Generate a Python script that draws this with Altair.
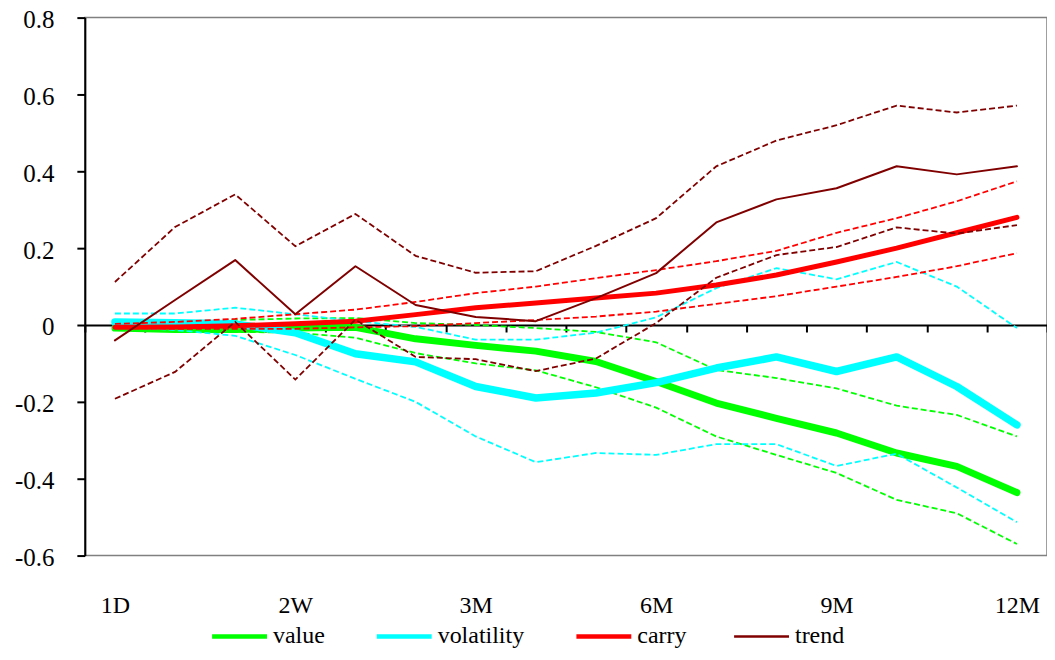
import altair as alt
import pandas as pd

categories = ["1D", "2D", "1W", "2W", "1M", "2M", "3M", "4M", "5M", "6M",
              "7M", "8M", "9M", "10M", "11M", "12M"]
tick_labels = ["1D", "2W", "3M", "6M", "9M", "12M"]
y_ticks = [-0.6, -0.4, -0.2, 0, 0.2, 0.4, 0.6, 0.8]

series_names = ["value", "volatility", "carry", "trend"]
series_colors = ["#00FF00", "#00FFFF", "#FF0000", "#800000"]

value_mean = [-0.008, -0.012, -0.012, -0.008, -0.006, -0.036, -0.053, -0.068, -0.095, -0.147,
              -0.203, -0.243, -0.281, -0.333, -0.368, -0.436]
value_upper = [0.0, 0.005, 0.013, 0.017, 0.018, 0.005, 0.0, -0.008, -0.018, -0.045,
               -0.117, -0.138, -0.165, -0.21, -0.234, -0.29]
value_lower = [-0.012, -0.015, -0.018, -0.02, -0.033, -0.073, -0.1, -0.118, -0.162, -0.215,
               -0.29, -0.338, -0.385, -0.455, -0.49, -0.57]

vol_mean = [0.008, 0.006, 0.003, -0.02, -0.075, -0.096, -0.16, -0.19, -0.177, -0.15,
            -0.112, -0.083, -0.121, -0.083, -0.16, -0.26]
vol_upper = [0.03, 0.03, 0.045, 0.028, 0.01, -0.005, -0.038, -0.038, -0.02, 0.02,
             0.096, 0.148, 0.119, 0.164, 0.1, -0.008]
vol_lower = [-0.005, -0.013, -0.028, -0.078, -0.14, -0.2, -0.29, -0.357, -0.333, -0.338,
             -0.31, -0.31, -0.367, -0.335, -0.423, -0.513]

carry_mean = [-0.006, -0.005, -0.002, 0.003, 0.01, 0.027, 0.045, 0.057, 0.07, 0.083,
              0.104, 0.13, 0.164, 0.2, 0.24, 0.28]
carry_upper = [0.003, 0.008, 0.016, 0.028, 0.04, 0.06, 0.083, 0.1, 0.122, 0.143,
               0.166, 0.193, 0.24, 0.278, 0.322, 0.374]
carry_lower = [-0.008, -0.01, -0.01, -0.01, -0.006, -0.003, 0.005, 0.013, 0.022, 0.035,
               0.055, 0.075, 0.1, 0.125, 0.153, 0.187]

trend_mean = [-0.04, 0.065, 0.169, 0.028, 0.153, 0.052, 0.021, 0.01, 0.07, 0.135,
              0.267, 0.327, 0.356, 0.413, 0.392, 0.413]
trend_upper = [0.112, 0.255, 0.34, 0.205, 0.289, 0.18, 0.136, 0.14, 0.206, 0.278,
               0.413, 0.48, 0.52, 0.571, 0.553, 0.571]
trend_lower = [-0.192, -0.122, 0.008, -0.142, 0.014, -0.083, -0.089, -0.12, -0.087, 0.005,
               0.123, 0.182, 0.203, 0.254, 0.238, 0.26]

series_data = {
    "value": (value_mean, value_upper, value_lower),
    "volatility": (vol_mean, vol_upper, vol_lower),
    "carry": (carry_mean, carry_upper, carry_lower),
    "trend": (trend_mean, trend_upper, trend_lower),
}
mean_widths = {"value": 7, "volatility": 7.5, "carry": 5, "trend": 2}

rows = []
for name in series_names:
    mean, up, lo = series_data[name]
    for i, cat in enumerate(categories):
        rows.append({"series": name, "idx": i, "cat": cat, "kind": "mean", "v": mean[i]})
        rows.append({"series": name, "idx": i, "cat": cat, "kind": "upper", "v": up[i]})
        rows.append({"series": name, "idx": i, "cat": cat, "kind": "lower", "v": lo[i]})
df = pd.DataFrame(rows)

W, H = 964, 539
ymin, ymax = -0.6, 0.8
zero_offset = -H * (0 - ymin) / (ymax - ymin)
FONT = "Liberation Serif"

xscale = alt.Scale(domain=[-0.5, len(categories) - 0.5], nice=False, zero=False)
yscale = alt.Scale(domain=[ymin, ymax], nice=False, zero=False)

cat_array = "[" + ",".join("'" + c + "'" for c in categories) + "]"
label_axis = alt.Axis(orient="bottom", values=[categories.index(t) for t in tick_labels],
                      labelExpr=cat_array + "[datum.value]", ticks=False, tickSize=0,
                      domain=False, grid=False, labelPadding=38, labelFont=FONT,
                      labelFontSize=24, labelColor="black", labelFlush=False, title=None)
zero_axis = alt.Axis(orient="bottom", offset=zero_offset,
                     values=[i - 0.5 for i in range(len(categories) + 1)],
                     labels=False, ticks=True, tickSize=7, tickWidth=2, tickColor="black",
                     domain=True, domainColor="black", domainWidth=2, grid=False, title=None)
y_axis = alt.Axis(values=y_ticks,
                  labelExpr="datum.value == 0 ? '0' : (datum.value < 0 ? '-' : '') + format(abs(datum.value), '.1f')",
                  tickSize=8, tickWidth=2, tickColor="black", domainColor="black", domainWidth=2,
                  labelPadding=23, labelOffset=2, labelFont=FONT, labelFontSize=25,
                  labelColor="black", grid=False, title=None)

cscale = alt.Scale(domain=series_names, range=series_colors)
legend = alt.Legend(orient="none", legendX=125, legendY=590, direction="horizontal", title=None,
                    symbolType="stroke", symbolSize=3025,
                    symbolStrokeWidth={"expr": "(datum.value === 'trend' ? 2.5 : 4.5)"},
                    labelFont=FONT, labelFontSize=24, labelColor="black", labelOffset=3.5,
                    columnPadding=42, padding=0)

layers = []
first = True
for name in series_names:
    base = alt.Chart(df).transform_filter(alt.datum.series == name)
    mean_layer = base.transform_filter(alt.datum.kind == "mean").mark_line(
        strokeWidth=mean_widths[name], strokeCap="round", strokeJoin="round"
    ).encode(
        x=alt.X("idx:Q", scale=xscale, axis=label_axis if first else None),
        y=alt.Y("v:Q", scale=yscale, axis=y_axis),
        color=alt.Color("series:N", scale=cscale, legend=legend if first else None),
    )
    band_layer = base.transform_filter(alt.datum.kind != "mean").mark_line(
        strokeWidth=1.8, strokeDash=[6, 3]
    ).encode(
        x=alt.X("idx:Q", scale=xscale, axis=zero_axis if first else None),
        y=alt.Y("v:Q", scale=yscale, axis=y_axis),
        color=alt.Color("series:N", scale=cscale, legend=None),
        detail="kind:N",
    )
    layers += [mean_layer, band_layer]
    first = False

chart = alt.layer(*layers).resolve_axis(x="independent").properties(
    width=W, height=H,
    autosize=alt.AutoSizeParams(type="none"),
    padding={"left": 77, "top": 9, "right": 0, "bottom": 96},
).configure(font=FONT).configure_axis(
    labelFont=FONT
).configure_legend(labelFont=FONT).configure_view(stroke="#808080", strokeWidth=1.5)

chart.save("out.html", embed_options={"renderer": "svg", "actions": False})
